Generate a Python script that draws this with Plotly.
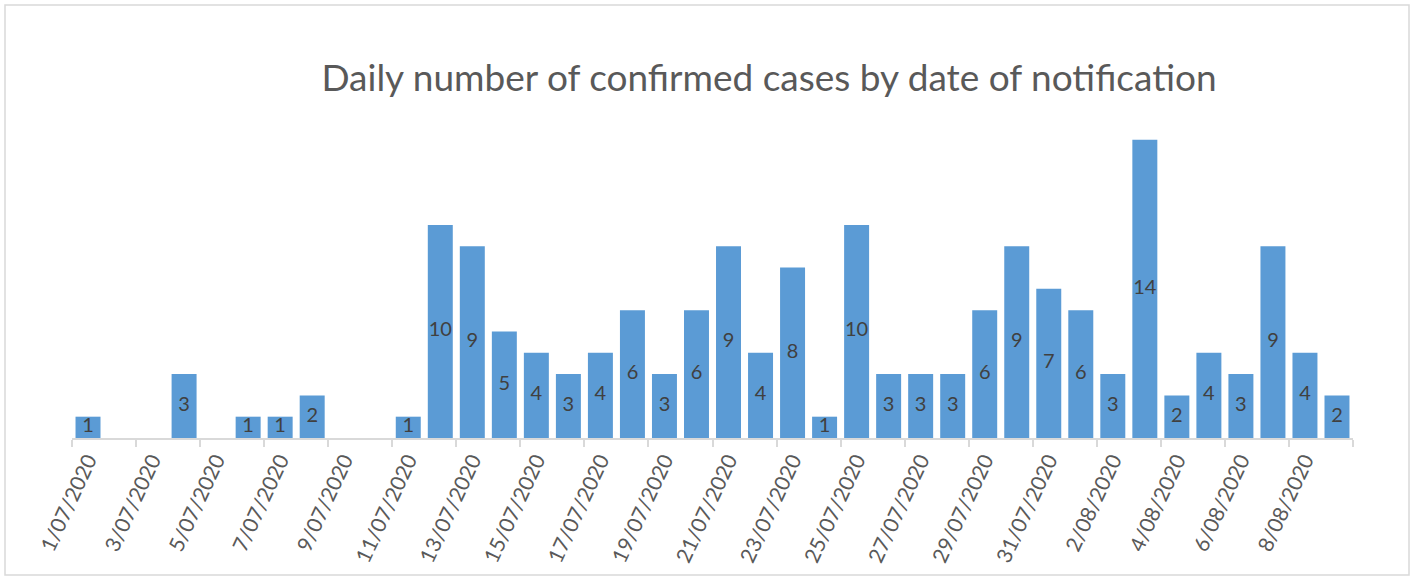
import plotly.graph_objects as go

dates = [f"{d}/07/2020" for d in range(1, 32)] + [f"{d}/08/2020" for d in range(1, 10)]
cases = [1, 0, 0, 3, 0, 1, 1, 2, 0, 0,
         1, 10, 9, 5, 4, 3, 4, 6, 3, 6,
         9, 4, 8, 1, 10, 3, 3, 3, 6, 9,
         7, 6, 3, 14, 2, 4, 3, 9, 4, 2]
title_text = "Daily number of confirmed cases by date of notification"

W, H = 1414, 579
L, R, T, B = 72, 61, 97, 141

fig = go.Figure()
fig.add_trace(go.Bar(
    x=dates, y=cases,
    marker=dict(color="#5B9BD5", line=dict(width=0)),
    hoverinfo="x+y",
))
lab_x = [d for d, v in zip(dates, cases) if v > 0]
lab_y = [v / 2 for v in cases if v > 0]
lab_t = [str(v) for v in cases if v > 0]
fig.add_trace(go.Scatter(
    x=lab_x, y=lab_y, text=lab_t, mode="text",
    textfont=dict(family="Lato", size=20, color="#404040"),
    hoverinfo="skip", cliponaxis=False,
))

pw = W - L - R
ph = H - T - B
fig.add_shape(type="rect", xref="paper", yref="paper",
              x0=(5 - L) / pw, x1=(W - 5 - L) / pw,
              y0=-(H - 4 - T - ph) / ph, y1=1 + (T - 5) / ph,
              line=dict(color="#D9D9D9", width=1.5), layer="below")

fig.update_layout(
    width=W, height=H,
    margin=dict(l=L, r=R, t=T, b=B, autoexpand=False),
    paper_bgcolor="white", plot_bgcolor="white",
    showlegend=False, bargap=0.22,
    font=dict(family="Lato", color="#595959"),
    title=dict(text=title_text, x=769 / W, xanchor="center",
               y=1 - 78 / H, yanchor="middle",
               font=dict(family="Lato", size=37, color="#595959")),
    xaxis=dict(type="category", range=[-0.5, len(dates) - 0.5],
               tickangle=-65, dtick=2, tickson="boundaries", automargin=False,
               ticks="outside", ticklen=7, tickcolor="#D9D9D9", tickwidth=1.5,
               showline=True, linecolor="#D9D9D9", linewidth=1.5,
               showgrid=False, tickfont=dict(family="Lato", size=21, color="#595959")),
    yaxis=dict(range=[0, 16], visible=False, showgrid=False, automargin=False),
)

fig.write_html("out.html", config={"displayModeBar": False},
               post_script="document.body.style.margin='0';document.body.style.overflow='hidden';")
